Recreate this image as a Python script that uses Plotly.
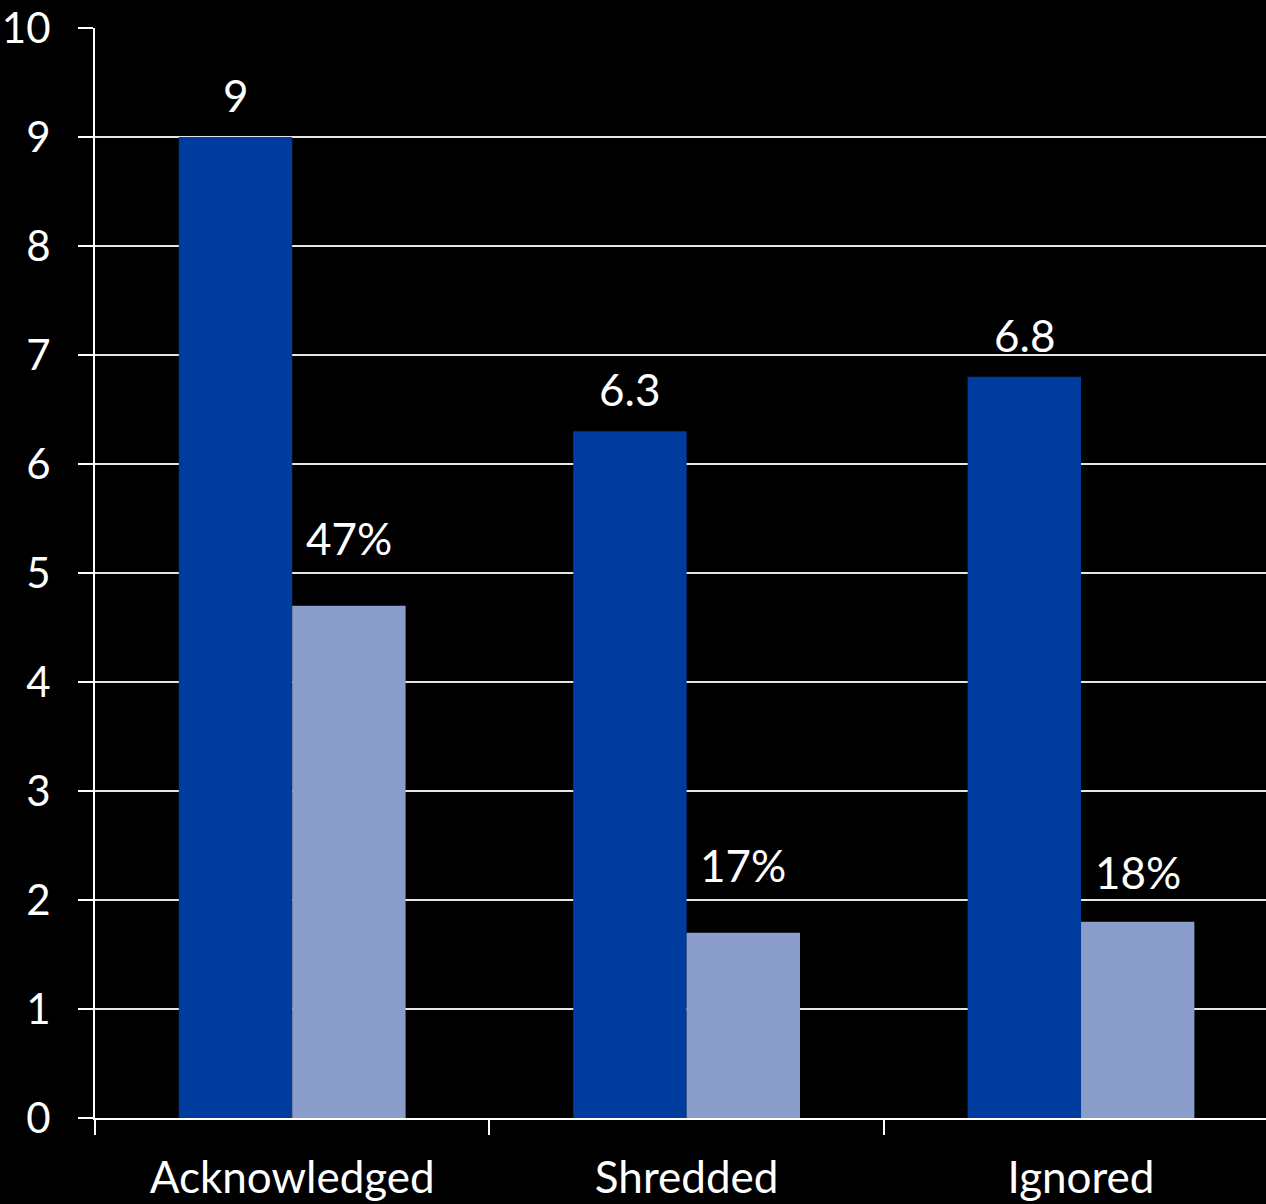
import plotly.graph_objects as go

categories = ["Acknowledged", "Shredded", "Ignored"]
dark_values = [9, 6.3, 6.8]
dark_labels = ["9", "6.3", "6.8"]
light_values = [4.7, 1.7, 1.8]
light_labels = ["47%", "17%", "18%"]
y_ticks = [0, 1, 2, 3, 4, 5, 6, 7, 8, 9, 10]

FONT = "Lato, 'Open Sans', sans-serif"
DARK = "#003c9e"
LIGHT = "#8a9dcb"

fig = go.Figure()
fig.add_trace(go.Bar(x=categories, y=dark_values, marker=dict(color=DARK, line=dict(width=0)),
                     name="dark", hoverinfo="skip"))
fig.add_trace(go.Bar(x=categories, y=light_values, marker=dict(color=LIGHT, line=dict(width=0)),
                     name="light", hoverinfo="skip"))

px_per_cat = (1266 - 95) / (2.469 + 0.5)
offset = 0.575 / 4 * px_per_cat
dark_shift = [14, 14, 14]
light_shift = [40, 40, 22]

annotations = []
for c, v, t, s in zip(categories, dark_values, dark_labels, dark_shift):
    annotations.append(dict(x=c, y=v, text=t, showarrow=False, xshift=-offset, yshift=s,
                            yanchor="bottom", font=dict(family=FONT, size=44, color="white")))
for c, v, t, s in zip(categories, light_values, light_labels, light_shift):
    annotations.append(dict(x=c, y=v, text=t, showarrow=False, xshift=offset, yshift=s,
                            yanchor="bottom", font=dict(family=FONT, size=44, color="white")))

fig.update_layout(
    width=1266, height=1204,
    margin=dict(l=95, r=0, t=28, b=86),
    paper_bgcolor="black", plot_bgcolor="black",
    barmode="group", bargap=0.425, bargroupgap=0,
    showlegend=False,
    annotations=annotations,
    font=dict(family=FONT, size=44, color="white"),
    xaxis=dict(type="category", range=[-0.5, 2.469], tickson="boundaries", automargin=False,
               ticks="outside", ticklen=15, tickwidth=2, tickcolor="white",
               showline=True, linecolor="white", linewidth=2, showgrid=False,
               tickfont=dict(family=FONT, size=44, color="white"), ticklabelstandoff=20),
    yaxis=dict(range=[0, 10], tickvals=y_ticks, ticks="outside", ticklen=15, tickwidth=2,
               automargin=False,
               tickcolor="white", showline=True, linecolor="white", linewidth=2,
               showgrid=True, gridcolor="#e6e6e6", gridwidth=2, zeroline=False,
               tickfont=dict(family=FONT, size=42, color="white"), ticklabelstandoff=19),
)

fig.write_html(
    "out.html",
    config={"displayModeBar": False},
    post_script="document.body.style.margin='0';document.body.style.background='black';"
                "document.body.style.overflow='hidden';",
)
